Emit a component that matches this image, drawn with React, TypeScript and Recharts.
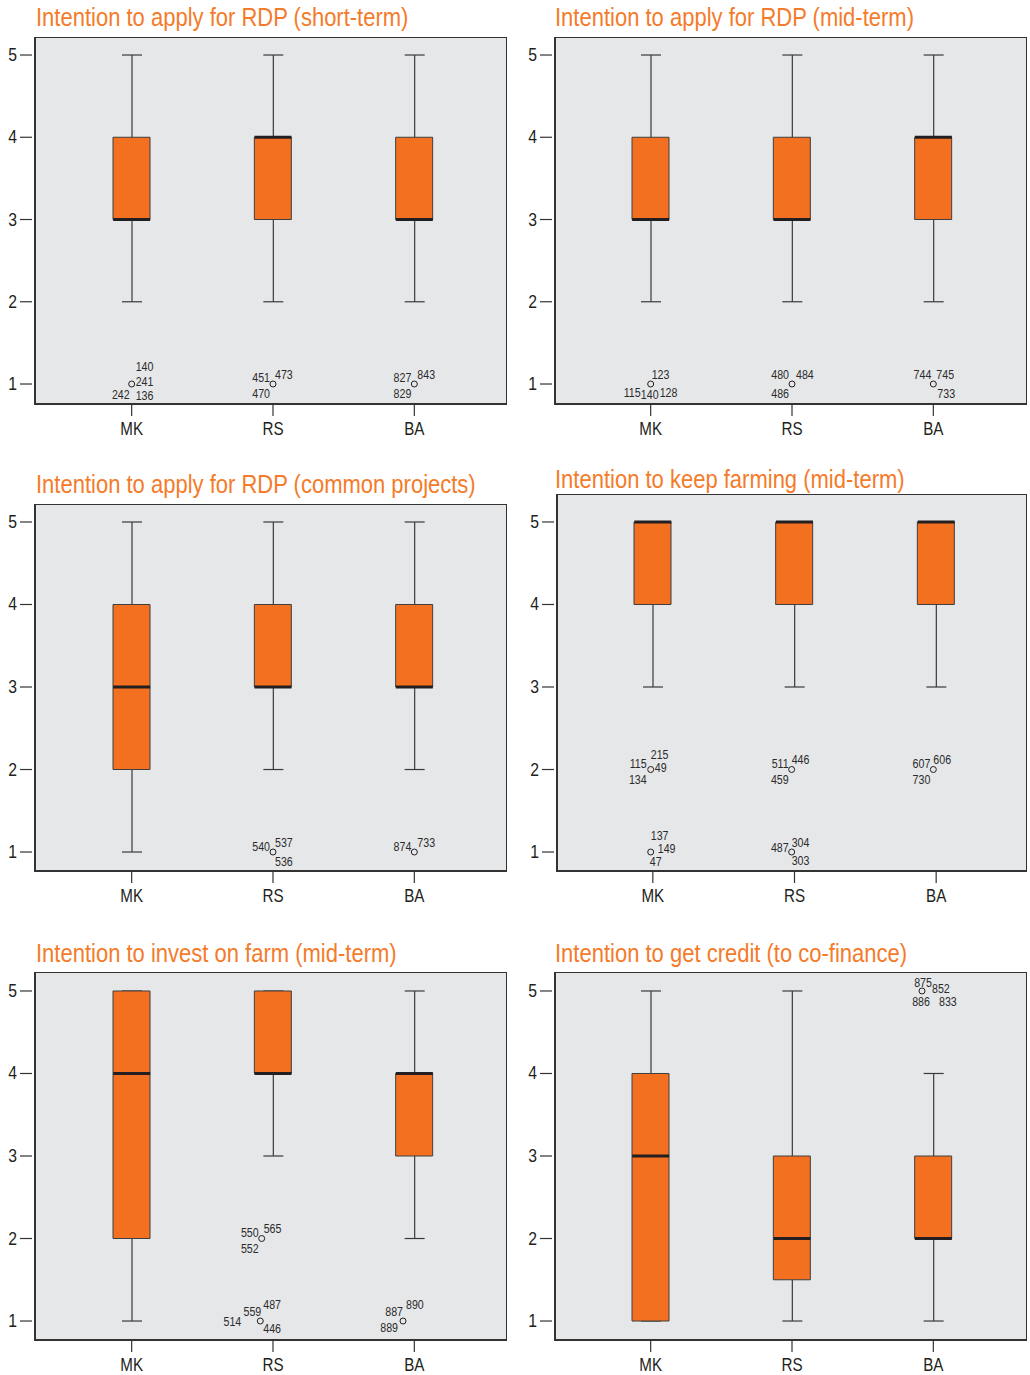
import React from "react";
import {
  ComposedChart, Bar, Scatter, XAxis, YAxis, CartesianGrid, ReferenceArea,
} from "recharts";

const CATS = ["MK", "RS", "BA"];
const Y_TICKS = [1, 2, 3, 4, 5];

const TITLES = [
  "Intention to apply for RDP (short-term)",
  "Intention to apply for RDP (mid-term)",
  "Intention to apply for RDP (common projects)",
  "Intention to keep farming (mid-term)",
  "Intention to invest on farm (mid-term)",
  "Intention to get credit (to co-finance)",
];

// [min, q1, median, q3, max] for MK, RS, BA
const BOX_SHORT = [[2, 3, 3, 4, 5], [2, 3, 4, 4, 5], [2, 3, 3, 4, 5]];
const BOX_MID = [[2, 3, 3, 4, 5], [2, 3, 3, 4, 5], [2, 3, 4, 4, 5]];
const BOX_COMMON = [[1, 2, 3, 4, 5], [2, 3, 3, 4, 5], [2, 3, 3, 4, 5]];
const BOX_KEEP = [[3, 4, 5, 5, 5], [3, 4, 5, 5, 5], [3, 4, 5, 5, 5]];
const BOX_INVEST = [[1, 2, 4, 5, 5], [3, 4, 4, 5, 5], [2, 3, 4, 4, 5]];
const BOX_CREDIT = [[1, 1, 3, 4, 5], [1, 1.5, 2, 3, 5], [1, 2, 2, 3, 4]];

// outliers: x = category position (with the small SPSS shift), y = value, case ids
const OUT_SHORT = [
  { x: 1, y: 1, ids: ["140", "241", "242", "136"] },
  { x: 2, y: 1, ids: ["451", "473", "470"] },
  { x: 3, y: 1, ids: ["827", "843", "829"] },
];
const OUT_MID = [
  { x: 1, y: 1, ids: ["123", "115", "140", "128"] },
  { x: 2, y: 1, ids: ["480", "484", "486"] },
  { x: 3, y: 1, ids: ["744", "745", "733"] },
];
const OUT_COMMON = [
  { x: 2, y: 1, ids: ["540", "537", "536"] },
  { x: 3, y: 1, ids: ["874", "733"] },
];
const OUT_KEEP = [
  { x: 0.985, y: 2, ids: ["115", "215", "49", "134"] },
  { x: 0.985, y: 1, ids: ["137", "149", "47"] },
  { x: 1.98, y: 2, ids: ["511", "446", "459"] },
  { x: 1.98, y: 1, ids: ["487", "304", "303"] },
  { x: 2.98, y: 2, ids: ["607", "606", "730"] },
];
const OUT_INVEST = [
  { x: 1.92, y: 2, ids: ["550", "565", "552"] },
  { x: 1.91, y: 1, ids: ["514", "559", "487", "446"] },
  { x: 2.92, y: 1, ids: ["887", "890", "889"] },
];
const OUT_CREDIT = [
  { x: 2.92, y: 5, ids: ["875", "852", "886", "833"] },
];

// label placement around each outlier circle: [dx, dy(baseline), anchor]
type LP = [number, number, "s" | "e" | "m"];
const LBL_SHORT: LP[][] = [
  [[4, -13, "s"], [4, 2, "s"], [-2, 15, "e"], [4, 16, "s"]],
  [[-3, -2, "e"], [2, -5, "s"], [-3, 14, "e"]],
  [[-3, -2, "e"], [3, -5, "s"], [-3, 14, "e"]],
];
const LBL_MID: LP[][] = [
  [[1, -5, "s"], [-10, 13, "e"], [-1, 15, "m"], [9, 13, "s"]],
  [[-3, -5, "e"], [4, -5, "s"], [-3, 14, "e"]],
  [[-2, -5, "e"], [3, -5, "s"], [4, 14, "s"]],
];
const LBL_COMMON: LP[][] = [
  [[-3, -1, "e"], [2, -5, "s"], [2, 14, "s"]],
  [[-3, -1, "e"], [3, -5, "s"]],
];
const LBL_KEEP: LP[][] = [
  [[-4, -2, "e"], [0, -11, "s"], [4, 2, "s"], [-4, 14, "e"]],
  [[0, -12, "s"], [7, 1, "s"], [-1, 14, "s"]],
  [[-3, -2, "e"], [0, -6, "s"], [-3, 14, "e"]],
  [[-3, 0, "e"], [0, -5, "s"], [0, 13, "s"]],
  [[-3, -2, "e"], [0, -6, "s"], [-3, 14, "e"]],
];
const LBL_INVEST: LP[][] = [
  [[-3, -2, "e"], [2, -6, "s"], [-3, 14, "e"]],
  [[-19, 5, "e"], [1, -5, "e"], [3, -12, "s"], [3, 12, "s"]],
  [[0, -5, "e"], [3, -12, "s"], [-5, 11, "e"]],
];
const LBL_CREDIT: LP[][] = [
  [[1, -4, "m"], [10, 2, "s"], [-1, 15, "m"], [17, 15, "s"]],
];

// Arial Narrow look: Liberation Sans squeezed horizontally
const FONT = "'Liberation Sans', Arial, sans-serif";
const ORANGE = "#F37021";
const INK = "#231F20";
const BOX_W = 37;
const CAP_W = 20;
const AXIS_W = 35;
const XAXIS_H = 40;

interface Layout {
  left: number; top: number; width: number; height: number;
  yLo: number; yHi: number; padL: number; padR: number;
  titleX: number; titleBase: number;
}

const NText = ({ x, y, size, anchor, fill, sx, children }: any) => (
  <text transform={`translate(${x},${y}) scale(${sx},1)`} textAnchor={anchor}
    fontSize={size} fontFamily={FONT} fill={fill}>{children}</text>
);

const Whisker = (p: any) => {
  const { x, width } = p;
  const y = Math.min(p.y, p.y + p.height);
  const h = Math.abs(p.height);
  const cx = x + width / 2;
  return (
    <g stroke="#3a3a3a" strokeWidth={1.2}>
      <line x1={cx} x2={cx} y1={y} y2={y + h} />
      <line x1={x} x2={x + width} y1={y} y2={y} />
      <line x1={x} x2={x + width} y1={y + h} y2={y + h} />
    </g>
  );
};

const Median = (p: any) => (
  <line x1={p.cx - BOX_W / 2} x2={p.cx + BOX_W / 2} y1={p.cy} y2={p.cy} stroke={INK} strokeWidth={3} />
);

const Outlier = (p: any) => {
  const { cx, cy, payload } = p;
  return (
    <g>
      <circle cx={cx} cy={cy} r={3} fill="none" stroke={INK} strokeWidth={1} />
      {payload.ids.map((id: string, i: number) => {
        const [dx, dy, a] = payload.pos[i] as LP;
        return (
          <NText key={id + i} x={cx + dx} y={cy + dy} size={13} sx={0.82} fill="#2b2b2b"
            anchor={a === "s" ? "start" : a === "e" ? "end" : "middle"}>{id}</NText>
        );
      })}
    </g>
  );
};

const XTick = (p: any) => (
  <g>
    <line x1={p.x} x2={p.x} y1={p.y + 1} y2={p.y + 12} stroke="#333" strokeWidth={1.2} />
    <NText x={p.x} y={p.y + 31} anchor="middle" size={19} sx={0.8} fill={INK}>{p.payload.value}</NText>
  </g>
);

const YTick = (p: any) => (
  <g>
    <line x1={p.x - 15} x2={p.x - 3} y1={p.y} y2={p.y} stroke="#333" strokeWidth={1.2} />
    <NText x={p.x - 18} y={p.y + 6} anchor="end" size={17.5} sx={0.9} fill={INK}>{p.payload.value}</NText>
  </g>
);

function Panel({ title, boxes, outliers, labels, lay }: {
  title: string; boxes: number[][]; outliers: { x: number; y: number; ids: string[] }[];
  labels: LP[][]; lay: Layout;
}) {
  const rows = CATS.map((c, i) => ({
    cat: c, x: i + 1,
    min: boxes[i][0], q1: boxes[i][1], med: boxes[i][2], q3: boxes[i][3], max: boxes[i][4],
  }));
  const outData = outliers.map((o, i) => ({ ...o, pos: labels[i] }));
  const bw = (lay.width - lay.padL - lay.padR) / 3;
  const xLo = 0.5 - lay.padL / bw;
  const xHi = 0.5 + (lay.width - lay.padL) / bw;

  return (
    <>
      <div style={{
        position: "absolute", left: lay.titleX, top: lay.titleBase - 22.5, fontFamily: FONT,
        fontSize: 26.5, lineHeight: "26.5px", color: "#F47B2A", whiteSpace: "nowrap",
        transform: "scaleX(0.83)", transformOrigin: "left top",
      }}>{title}</div>
      <div style={{ position: "absolute", left: lay.left - AXIS_W, top: lay.top }}>
        <ComposedChart width={lay.width + AXIS_W} height={lay.height + XAXIS_H} data={rows}
          margin={{ top: 0, right: 0, bottom: 0, left: 0 }}>
          <CartesianGrid fill="#E6E7E9" horizontal={false} vertical={false} />
          <XAxis xAxisId="cat" dataKey="cat" type="category" height={XAXIS_H}
            padding={{ left: lay.padL, right: lay.padR }} axisLine={false} tickLine={false}
            tickSize={0} tickMargin={0} interval={0} tick={<XTick />} />
          <XAxis xAxisId="wh" dataKey="cat" type="category" hide
            padding={{ left: lay.padL, right: lay.padR }} />
          <XAxis xAxisId="num" dataKey="x" type="number" hide domain={[xLo, xHi]} allowDataOverflow />
          <YAxis type="number" domain={[lay.yLo, lay.yHi]} ticks={Y_TICKS} allowDataOverflow
            width={AXIS_W} axisLine={false} tickLine={false} tickSize={0} tickMargin={0}
            interval={0} tick={<YTick />} />
          <Bar xAxisId="wh" dataKey={(d: any) => [d.min, d.max]} barSize={CAP_W}
            shape={<Whisker />} isAnimationActive={false} />
          <Bar xAxisId="cat" dataKey={(d: any) => [d.q1, d.q3]} barSize={BOX_W}
            fill={ORANGE} stroke="#3f3f3f" strokeWidth={1} isAnimationActive={false} />
          <Scatter xAxisId="cat" dataKey="med" shape={<Median />} isAnimationActive={false} />
          <Scatter xAxisId="num" data={outData} dataKey="y" shape={<Outlier />} isAnimationActive={false} />
          <ReferenceArea xAxisId="num" x1={xLo} x2={xHi} y1={lay.yLo} y2={lay.yHi}
            fill="none" stroke="#333" strokeWidth={2} ifOverflow="visible" />
        </ComposedChart>
      </div>
    </>
  );
}

const L_SHORT: Layout = { left: 35, top: 37, width: 472, height: 367, yLo: 0.757, yHi: 5.219, padL: 26, padR: 22, titleX: 36, titleBase: 26 };
const L_MID: Layout = { left: 555, top: 37, width: 472, height: 367, yLo: 0.757, yHi: 5.219, padL: 25, padR: 23, titleX: 555, titleBase: 26 };
const L_COMMON: Layout = { left: 35, top: 504, width: 472, height: 367, yLo: 0.77, yHi: 5.218, padL: 26, padR: 22, titleX: 36, titleBase: 493 };
const L_KEEP: Layout = { left: 557, top: 494, width: 470, height: 377, yLo: 0.77, yHi: 5.339, padL: 25, padR: 20, titleX: 555, titleBase: 488 };
const L_INVEST: Layout = { left: 35, top: 972, width: 472, height: 368, yLo: 0.77, yHi: 5.23, padL: 26, padR: 22, titleX: 36, titleBase: 962 };
const L_CREDIT: Layout = { left: 555, top: 972, width: 472, height: 368, yLo: 0.77, yHi: 5.23, padL: 25, padR: 23, titleX: 555, titleBase: 962 };

export default function App() {
  return (
    <div style={{ position: "absolute", left: 0, top: 0, width: 1030, height: 1375, background: "#fff", overflow: "hidden" }}>
      <Panel title={TITLES[0]} boxes={BOX_SHORT} outliers={OUT_SHORT} labels={LBL_SHORT} lay={L_SHORT} />
      <Panel title={TITLES[1]} boxes={BOX_MID} outliers={OUT_MID} labels={LBL_MID} lay={L_MID} />
      <Panel title={TITLES[2]} boxes={BOX_COMMON} outliers={OUT_COMMON} labels={LBL_COMMON} lay={L_COMMON} />
      <Panel title={TITLES[3]} boxes={BOX_KEEP} outliers={OUT_KEEP} labels={LBL_KEEP} lay={L_KEEP} />
      <Panel title={TITLES[4]} boxes={BOX_INVEST} outliers={OUT_INVEST} labels={LBL_INVEST} lay={L_INVEST} />
      <Panel title={TITLES[5]} boxes={BOX_CREDIT} outliers={OUT_CREDIT} labels={LBL_CREDIT} lay={L_CREDIT} />
    </div>
  );
}
